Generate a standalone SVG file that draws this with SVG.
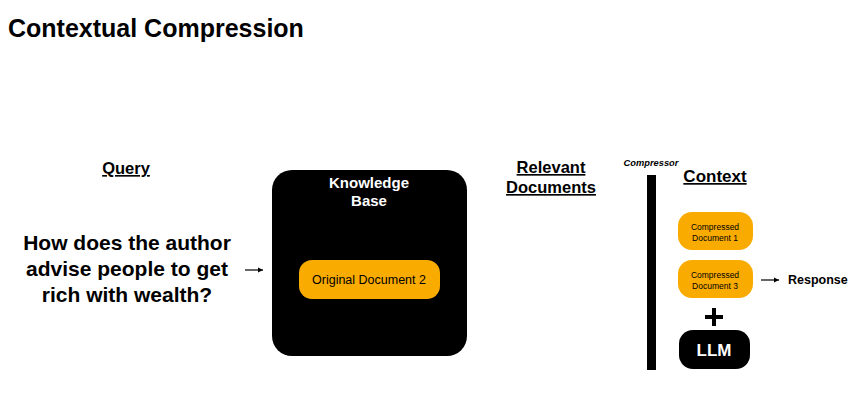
<svg xmlns="http://www.w3.org/2000/svg" width="862" height="420" viewBox="0 0 862 420">
<style>
text{font-family:"Liberation Sans",Arial,sans-serif;fill:#000}
.b{font-weight:bold}
.u{text-decoration:underline}
.c{text-anchor:middle}
.w{fill:#fff}
.org{fill:#F9AB00}
.blk{fill:#000}
.ln{stroke:#000;stroke-width:1.2;fill:none}
</style>
<defs>
<marker id="ah" markerWidth="6" markerHeight="6" refX="5" refY="3" orient="auto" markerUnits="userSpaceOnUse">
<path d="M0,0.5 L5,3 L0,5.5 Z" fill="#000"/>
</marker>
</defs>
<rect width="862" height="420" fill="#fff"/>
<text x="8" y="37" class="b" font-size="25">Contextual Compression</text>

<g id="query">
<text x="126" y="174" class="b u c" font-size="16.5">Query</text>
<text class="b c" font-size="21"><tspan x="127" y="250">How does the author</tspan><tspan x="127" y="276">advise people to get</tspan><tspan x="127" y="302">rich with wealth?</tspan></text>
</g>

<g id="knowledge-base">
<rect x="272" y="170" width="195" height="186" rx="20" class="blk"/>
<text class="b c w" font-size="15"><tspan x="369" y="188">Knowledge</tspan><tspan x="369" y="206">Base</tspan></text>
</g>

<g id="original-document-2">
<rect x="299" y="260" width="141" height="39" rx="13" class="org"/>
<text x="369" y="284" class="c" font-size="12.5">Original Document 2</text>
</g>

<g id="relevant-documents">
<text class="b u c" font-size="16.5"><tspan x="551" y="173">Relevant</tspan><tspan x="551" y="193">Documents</tspan></text>
</g>

<g id="compressor">
<text x="651" y="166" class="b c" font-size="9.3" font-style="italic">Compressor</text>
<rect x="647" y="175" width="9" height="195" class="blk"/>
</g>

<g id="context">
<text x="715" y="182" class="b u c" font-size="17">Context</text>
</g>

<g id="compressed-document-1">
<rect x="678" y="212" width="75" height="38" rx="14" class="org"/>
<text class="c" font-size="8.5"><tspan x="715" y="230">Compressed</tspan><tspan x="715" y="241">Document 1</tspan></text>
</g>

<g id="compressed-document-3">
<rect x="678" y="260" width="75" height="38" rx="14" class="org"/>
<text class="c" font-size="8.5"><tspan x="715" y="278">Compressed</tspan><tspan x="715" y="289">Document 3</tspan></text>
</g>

<g id="plus">
<path d="M705,317 H723 M714,308 V326" stroke="#000" stroke-width="4"/>
</g>

<g id="llm">
<rect x="679" y="330" width="71" height="39" rx="14" class="blk"/>
<text x="714" y="356" class="b c w" font-size="17">LLM</text>
</g>

<g id="response">
<text x="788" y="284" class="b" font-size="12.5">Response</text>
</g>

<g id="connectors">
<line x1="245" y1="270" x2="263" y2="270" class="ln" marker-end="url(#ah)"/>
<line x1="761" y1="280" x2="779" y2="280" class="ln" marker-end="url(#ah)"/>
</g>
</svg>
